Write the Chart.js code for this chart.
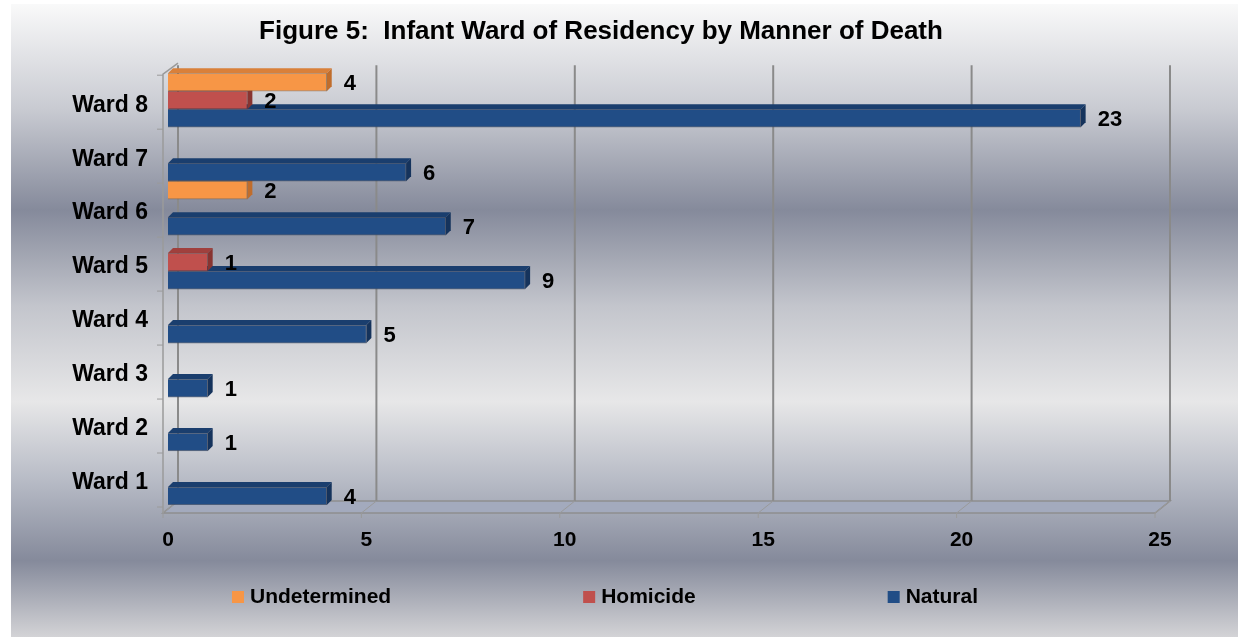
<!DOCTYPE html>
<html>
<head>
<meta charset="utf-8">
<script src="https://cdn.jsdelivr.net/npm/chart.js@4.4.1/dist/chart.umd.min.js"></script>
<style>
  html, body { margin: 0; padding: 0; background: #fff; }
</style>
</head>
<body>
<canvas id="mainChart" width="1238" height="637"></canvas>
<script>
// Data (top row first)
const wards = ['Ward 8', 'Ward 7', 'Ward 6', 'Ward 5', 'Ward 4', 'Ward 3', 'Ward 2', 'Ward 1'];
const undetermined = [4, 0, 2, 0, 0, 0, 0, 0];
const homicide = [2, 0, 0, 1, 0, 0, 0, 0];
const natural = [23, 6, 7, 9, 5, 1, 1, 4];
const xTicks = [0, 5, 10, 15, 20, 25];

const FONT = '"Liberation Sans", Arial, sans-serif';
const DX = 5, DY = -5;     // bar depth
const WX = 15, WY = -12;   // wall / floor depth

// background gradient panel
const backgroundPlugin = {
    id: 'panelBg',
    beforeDraw(chart) {
        const { ctx, width, height } = chart;
        const g = ctx.createLinearGradient(0, 0, 0, height);
        g.addColorStop(0, '#fbfbfb');
        g.addColorStop(0.17, '#c9cbd2');
        g.addColorStop(0.33, '#858a9b');
        g.addColorStop(0.48, '#c3c5cc');
        g.addColorStop(0.63, '#e7e7e8');
        g.addColorStop(0.76, '#b5b9c4');
        g.addColorStop(0.88, '#858a9b');
        g.addColorStop(1, '#d3d3d6');
        ctx.save();
        ctx.fillStyle = '#ffffff';
        ctx.fillRect(0, 0, width, height);
        ctx.fillStyle = g;
        ctx.fillRect(11, 4, width - 11, height - 4);
        ctx.restore();
    }
};

// walls, floor and back grid lines
const wallPlugin = {
    id: 'walls',
    beforeDatasetsDraw(chart) {
        const { ctx, chartArea: a, scales: { x, y } } = chart;
        const fx = a.left - 5, fy = a.bottom + 8;
        const rx = x.getPixelForValue(xTicks[xTicks.length - 1]) - 5;
        ctx.save();

        // floor
        ctx.fillStyle = '#a3aabd';
        ctx.beginPath();
        ctx.moveTo(fx, fy);
        ctx.lineTo(rx, fy);
        ctx.lineTo(rx + WX, fy + WY);
        ctx.lineTo(fx + WX, fy + WY);
        ctx.closePath();
        ctx.fill();
        ctx.strokeStyle = '#8e8e8e';
        ctx.lineWidth = 1.5;
        ctx.stroke();

        xTicks.forEach(v => {
            const px = x.getPixelForValue(v) - 5;
            // back grid line
            ctx.strokeStyle = '#8a8a8a';
            ctx.lineWidth = 2;
            ctx.beginPath();
            ctx.moveTo(px + WX, a.top - 8);
            ctx.lineTo(px + WX, fy + WY);
            ctx.stroke();
            // floor diagonal + front tick
            ctx.lineWidth = 1;
            ctx.strokeStyle = '#9a9a9a';
            ctx.beginPath();
            ctx.moveTo(px, fy + 5);
            ctx.lineTo(px, fy);
            ctx.lineTo(px + WX, fy + WY);
            ctx.stroke();
        });

        // left wall front edge and category ticks
        ctx.strokeStyle = '#9a9a9a';
        ctx.lineWidth = 1.5;
        ctx.beginPath();
        ctx.moveTo(fx + WX, a.top - 10);
        ctx.lineTo(fx, a.top + 1);
        ctx.lineTo(fx, fy);
        ctx.stroke();
        ctx.lineWidth = 1;
        for (let i = 0; i <= wards.length; i++) {
            const py = y.getPixelForValue(i - 0.5) + 2;
            ctx.beginPath();
            ctx.moveTo(fx - 6, py);
            ctx.lineTo(fx, py);
            ctx.stroke();
        }
        ctx.restore();
    }
};

// top and side faces of the bars (drawn under the front faces)
const depthPlugin = {
    id: 'barDepth',
    beforeDatasetsDraw(chart) {
        const { ctx } = chart;
        const bars = [];
        chart.data.datasets.forEach((ds, di) => {
            chart.getDatasetMeta(di).data.forEach((bar, i) => {
                if (!ds.data[i]) return;
                const p = bar.getProps(['x', 'y', 'base', 'height'], true);
                bars.push({ p, ds });
            });
        });
        bars.sort((m, n) => n.p.y - m.p.y);
        ctx.save();
        bars.forEach(({ p, ds }) => {
            const top = p.y - p.height / 2, bot = p.y + p.height / 2;
            ctx.fillStyle = ds.topColor;
            ctx.beginPath();
            ctx.moveTo(p.base, top);
            ctx.lineTo(p.base + DX, top + DY);
            ctx.lineTo(p.x + DX, top + DY);
            ctx.lineTo(p.x, top);
            ctx.closePath();
            ctx.fill();
            ctx.fillStyle = ds.sideColor;
            ctx.beginPath();
            ctx.moveTo(p.x, top);
            ctx.lineTo(p.x + DX, top + DY);
            ctx.lineTo(p.x + DX, bot + DY);
            ctx.lineTo(p.x, bot);
            ctx.closePath();
            ctx.fill();
        });
        ctx.restore();
    }
};

// value labels at bar ends
const valueLabelPlugin = {
    id: 'valueLabels',
    afterDatasetsDraw(chart) {
        const { ctx } = chart;
        ctx.save();
        ctx.font = 'bold 22px ' + FONT;
        ctx.fillStyle = '#000';
        ctx.textAlign = 'left';
        ctx.textBaseline = 'middle';
        chart.data.datasets.forEach((ds, di) => {
            chart.getDatasetMeta(di).data.forEach((bar, i) => {
                if (!ds.data[i]) return;
                ctx.fillText(String(ds.data[i]), bar.x + 17, bar.y + 2);
            });
        });
        ctx.restore();
    }
};

// flat legend along the bottom
const legendPlugin = {
    id: 'flatLegend',
    afterDraw(chart) {
        const { ctx } = chart;
        ctx.save();
        ctx.font = 'bold 21px ' + FONT;
        ctx.textBaseline = 'middle';
        const gap = 192;
        const items = chart.data.datasets.map(ds => ({
            label: ds.label,
            color: ds.backgroundColor,
            w: 12 + 6 + ctx.measureText(ds.label).width
        }));
        const total = items.reduce((s, it) => s + it.w, 0) + gap * (items.length - 1);
        let lx = 605 - total / 2;
        const ly = 597;
        items.forEach(it => {
            ctx.fillStyle = it.color;
            ctx.fillRect(lx, ly - 6, 12, 12);
            ctx.fillStyle = '#000';
            ctx.fillText(it.label, lx + 18, ly);
            lx += it.w + gap;
        });
        ctx.restore();
    }
};

const ctx = document.getElementById('mainChart').getContext('2d');

new Chart(ctx, {
    type: 'bar',
    data: {
        labels: wards,
        datasets: [
            {
                label: 'Undetermined', data: undetermined,
                backgroundColor: '#F79646', topColor: '#d9803a', sideColor: '#c06d2c',
                borderColor: 'rgba(120,90,60,0.6)', borderWidth: 1
            },
            {
                label: 'Homicide', data: homicide,
                backgroundColor: '#C0504D', topColor: '#a0403d', sideColor: '#883431',
                borderColor: 'rgba(110,60,60,0.6)', borderWidth: 1
            },
            {
                label: 'Natural', data: natural,
                backgroundColor: '#214D86', topColor: '#1a3e6e', sideColor: '#15335c',
                borderColor: 'rgba(60,70,90,0.7)', borderWidth: 1
            }
        ]
    },
    options: {
        indexAxis: 'y',
        responsive: false,
        animation: false,
        categoryPercentage: 1,
        barPercentage: 1,
        layout: { padding: { left: 42, right: 78, top: 0, bottom: 0 } },
        scales: {
            x: {
                min: 0,
                max: 25,
                afterFit: s => { s.height = 132; },
                afterBuildTicks: s => { s.ticks = xTicks.map(v => ({ value: v })); },
                grid: { display: false, drawTicks: false },
                border: { display: false },
                ticks: {
                    color: '#000',
                    padding: 23,
                    font: { family: FONT, size: 21, weight: 'bold' }
                }
            },
            y: {
                afterFit: s => { s.width = 126; },
                grid: { display: false, drawTicks: false },
                border: { display: false },
                ticks: {
                    color: '#000',
                    padding: 20,
                    labelOffset: 5,
                    font: { family: FONT, size: 23, weight: 'bold' }
                }
            }
        },
        plugins: {
            legend: { display: false },
            tooltip: { enabled: false },
            title: {
                display: true,
                text: 'Figure 5:  Infant Ward of Residency by Manner of Death',
                color: '#000',
                font: { family: FONT, size: 26, weight: 'bold' },
                padding: { top: 16, bottom: 26 }
            }
        }
    },
    plugins: [backgroundPlugin, wallPlugin, depthPlugin, valueLabelPlugin, legendPlugin]
});
</script>
</body>
</html>
